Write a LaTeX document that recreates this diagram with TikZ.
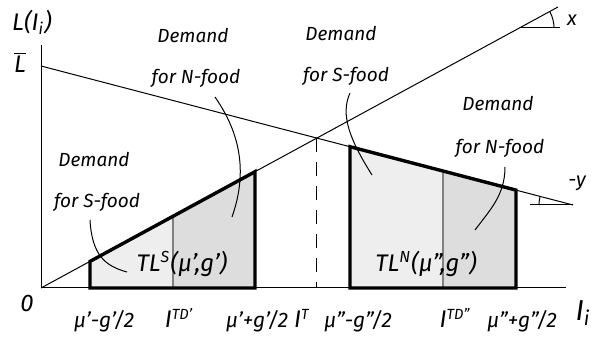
\documentclass[tikz,border=0pt]{standalone}
\usepackage{fontspec}
\setmainfont{Fira Sans}
\usepackage{tikz}
\usetikzlibrary{calc}

\begin{document}
\begin{tikzpicture}[
  x=0.5pt,y=-0.5pt,
  lbl/.style={font=\fontsize{9.5}{11}\selectfont\itshape,inner sep=1pt},
  tick/.style={font=\fontsize{10.5}{12}\selectfont\itshape,inner sep=1pt},
  big/.style={font=\large\itshape,inner sep=1pt},
  ln/.style={line width=0.5pt},
  bold/.style={line width=1.7pt},
  lead/.style={line width=0.5pt},
  lite/.style={fill=gray!13},
  dark/.style={fill=gray!27},
]
\useasboundingbox (0,0) rectangle (596,342);

% axes and the two lines
\coordinate (O) at (41,288);
\coordinate (ytop) at (41,45);
\coordinate (xend) at (566,288);
\coordinate (xr) at (558,7);
\coordinate (Lb) at (41,66);
\coordinate (yr) at (573,205);
\coordinate (T) at (intersection of O--xr and Lb--yr);

% S-food block
\coordinate (s1) at (90,288);   \coordinate (s1t) at (90,261.4);
\coordinate (s2) at (173,288);  \coordinate (s2t) at (173,216.3);
\coordinate (s3) at (255,288);  \coordinate (s3t) at (255,171.7);
% N-food block
\coordinate (n1) at (350,288);  \coordinate (n1t) at (350,146.7);
\coordinate (n2) at (443,288);  \coordinate (n2t) at (443,171.0);
\coordinate (n3) at (516,288);  \coordinate (n3t) at (516,190.1);

\fill[lite] (s1) -- (s1t) -- (s2t) -- (s2) -- cycle;
\fill[dark] (s2) -- (s2t) -- (s3t) -- (s3) -- cycle;
\fill[lite] (n1) -- (n1t) -- (n2t) -- (n2) -- cycle;
\fill[dark] (n2) -- (n2t) -- (n3t) -- (n3) -- cycle;
\draw[gray,line width=0.6pt] (s2) -- (s2t);
\draw[gray,line width=0.6pt] (n2) -- (n2t);

\draw[ln] (ytop) -- (O) -- (xend);
\draw[ln] (O) -- (xr);
\draw[ln] (Lb) -- (yr);
\draw[ln,dashed,dash pattern=on 7pt off 5pt] (T) -- (T |- O);

\draw[bold] (s1) -- (s1t) -- (s3t) -- (s3) -- cycle;
\draw[bold] (n1) -- (n1t) -- (n3t) -- (n3) -- cycle;

% angle marks
\coordinate (ax) at (520,28);
\draw[ln] (ax) -- ++(40,0);
\draw[ln] ($(ax)+(34,0)$) arc[start angle=0,end angle=-28.5,radius=34];
\draw[ln] (yr) -- ++(-43,0);
\draw[ln] ($(yr)+(-34,0)$) arc[start angle=180,end angle=194.6,radius=34];

% labels
\node[lbl,font=\large\itshape] (lofi) at (32,22) {L(I\textsubscript{i})};
\node[lbl,font=\large\itshape] (lbar) at (20,62) {$\overline{\mbox{\itshape L}}$};
\node[lbl,font=\itshape] (xlab) at (572,20) {x};
\node[lbl,font=\itshape] (ylab) at (577,183) {-y};
\node[lbl,font=\large\itshape] (zero) at (27,303) {0};
\node[lbl,font=\Large\rmfamily\itshape] (ilab) at (583,313) {I\textsubscript{i}};

\node[lbl] (dn1) at (193,36) {Demand};
\node[lbl] (fn1) at (196,78) {for N-food};
\node[lbl] (ds1) at (341,34) {Demand};
\node[lbl] (fs1) at (346,76) {for S-food};
\node[lbl] (dn2) at (498,104) {Demand};
\node[lbl] (fn2) at (500,148) {for N-food};
\node[lbl] (ds2) at (94,160) {Demand};
\node[lbl] (fs2) at (97,202) {for S-food};

\node[big] (tls) at (182,264) {TL\textsuperscript{S}(µ',g')};
\node[big] (tln) at (426,264) {TL\textsuperscript{N}(µ'',g'')};

\node[tick] (b1) at (104,321) {µ'-g'/2};
\node[tick] (b2) at (179,318) {{\large\rmfamily I}\textsuperscript{TD'}};
\node[tick] (b3) at (257,321) {µ'+g'/2};
\node[tick] (b4) at (302,318) {{\large\rmfamily I}\textsuperscript{T}};
\node[tick] (b5) at (358,321) {µ''-g''/2};
\node[tick] (b6) at (455,318) {{\large\rmfamily I}\textsuperscript{TD''}};
\node[tick] (b7) at (522,321) {µ''+g''/2};

% leaders
\coordinate (e1) at (127,272);
\coordinate (e2) at (232,217);
\coordinate (e3) at (372,175);
\coordinate (e4) at (475,230);
\draw[lead] (90,220) .. controls (92,255) and (105,266) .. (e1);
\draw[lead] (215,97) .. controls (245,140) and (245,180) .. (e2);
\draw[lead] (350,93) .. controls (340,115) and (350,140) .. (e3);
\draw[lead] (505,167) .. controls (505,195) and (490,210) .. (e4);
\end{tikzpicture}
\end{document}
